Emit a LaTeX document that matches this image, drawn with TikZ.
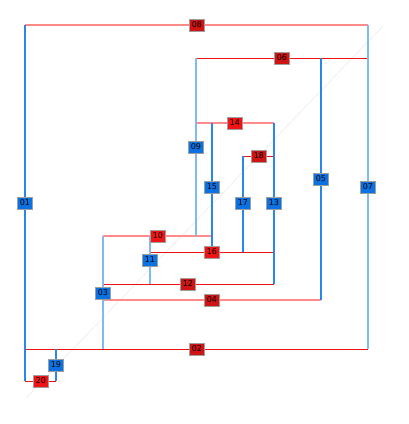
\documentclass[tikz,border=0pt]{standalone}
\usepackage{fontspec}
\setsansfont{DejaVu Sans}
\usepackage{tikz}
\usetikzlibrary{backgrounds}
\definecolor{edgered}{HTML}{EE1111}
\definecolor{palered}{HTML}{FF8A8A}
\definecolor{edgeblue}{HTML}{2A86EC}
\definecolor{paleblue}{HTML}{80BAF6}
\definecolor{tagred}{HTML}{F01414}
\definecolor{tagdark}{HTML}{D01414}
\definecolor{tagblue}{HTML}{0A72E2}

\begin{document}
\begin{tikzpicture}[x=1pt, y=-1pt,
  every node/.style={font=\sffamily\fontsize{8}{9}\selectfont},
  tag/.style={draw=gray!75, line width=0.8pt, minimum width=15pt, minimum height=12pt, inner sep=0.5pt, text=black},
  redtag/.style={tag, fill=tagred},
  darktag/.style={tag, fill=tagdark},
  bluetag/.style={tag, fill=tagblue},
  redline/.style={edgered, line width=1pt},
  redpale/.style={palered, line width=1.8pt},
  blueline/.style={edgeblue, line width=1.2pt},
  bluepale/.style={paleblue, line width=1.8pt},
  guide/.style={gray!20, line width=0.4pt}
]
\useasboundingbox (0,0) rectangle (409,424);

%---------- vertical edges ----------
\node[bluetag] (n01) at (25,203) {01};
\node[bluetag] (n03) at (103,293) {03};
\node[bluetag] (n05) at (321,179) {05};
\node[bluetag] (n07) at (368,187) {07};
\node[bluetag] (n09) at (196,147) {09};
\node[bluetag] (n11) at (150,260) {11};
\node[bluetag] (n13) at (274,203) {13};
\node[bluetag] (n15) at (212,187) {15};
\node[bluetag] (n17) at (243,203) {17};
\node[bluetag] (n19) at (56,365) {19};

%---------- horizontal edges ----------
\node[darktag] (n02) at (197,349) {02};
\node[darktag] (n04) at (212,300) {04};
\node[darktag] (n06) at (282,58) {06};
\node[darktag] (n08) at (197,25) {08};
\node[redtag]  (n10) at (158,236) {10};
\node[darktag] (n12) at (188,284) {12};
\node[redtag]  (n14) at (235,123) {14};
\node[redtag]  (n16) at (212,252) {16};
\node[darktag] (n18) at (259,156) {18};
\node[redtag]  (n20) at (41,381) {20};

\coordinate (g1) at (26,398);
\coordinate (g2) at (383,26);

\begin{scope}[on background layer]
  \draw[guide] (g1) -- (g2);

  \draw[redpale] (n01 |- n08) -- (n07 |- n08);
  \draw[redline] (n09 |- n06) -- (n07 |- n06);
  \draw[redpale] (n09 |- n14) -- (n13 |- n14);
  \draw[redline] (n17 |- n18) -- (n13 |- n18);
  \draw[redpale] (n03 |- n10) -- (n15 |- n10);
  \draw[redline] (n11 |- n16) -- (n13 |- n16);
  \draw[redline] (n03 |- n12) -- (n13 |- n12);
  \draw[redpale] (n03 |- n04) -- (n05 |- n04);
  \draw[redline] (n01 |- n02) -- (n07 |- n02);
  \draw[redline] (n01 |- n20) -- (n19 |- n20);

  \draw[blueline] (n01 |- n08) -- (n01 |- n20);
  \draw[blueline] (n19 |- n02) -- (n19 |- n20);
  \draw[bluepale] (n03 |- n10) -- (n03 |- n02);
  \draw[bluepale] (n11 |- n10) -- (n11 |- n12);
  \draw[bluepale] (n09 |- n06) -- (n09 |- n10);
  \draw[blueline] (n15 |- n14) -- (n15 |- n16);
  \draw[blueline] (n17 |- n18) -- (n17 |- n16);
  \draw[blueline] (n13 |- n14) -- (n13 |- n12);
  \draw[blueline] (n05 |- n06) -- (n05 |- n04);
  \draw[bluepale] (n07 |- n08) -- (n07 |- n02);
\end{scope}

\end{tikzpicture}
\end{document}
